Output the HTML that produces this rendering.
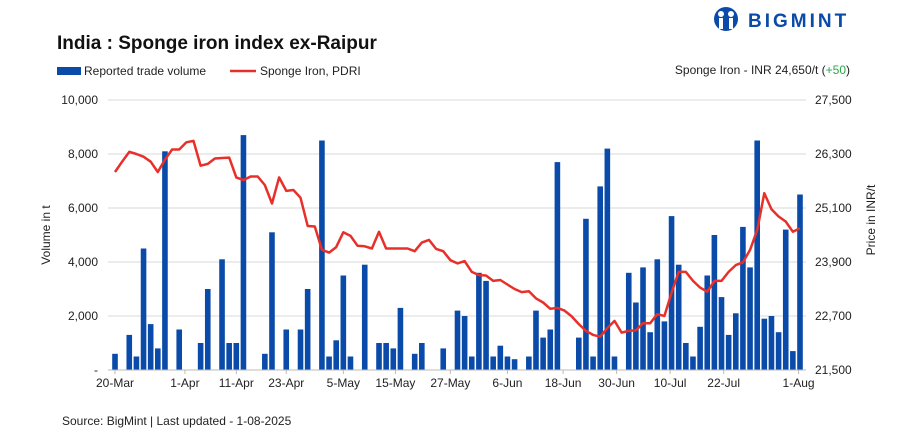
<!DOCTYPE html>
<html><head><meta charset="utf-8"><style>
body{margin:0;background:#fff;font-family:"Liberation Sans",sans-serif;}
svg{display:block}
</style></head><body>
<svg width="906" height="439" viewBox="0 0 906 439" xmlns="http://www.w3.org/2000/svg">
<text x="57" y="49" font-size="19" font-weight="bold" fill="#111">India : Sponge iron index ex-Raipur</text>
<g>
<circle cx="726" cy="19" r="12" fill="#0a4aa8"/>
<circle cx="721" cy="14" r="3" fill="#fff"/><circle cx="731" cy="14" r="3" fill="#fff"/>
<rect x="719" y="18" width="4" height="11" fill="#fff"/><rect x="729" y="18" width="4" height="11" fill="#fff"/>
<text x="748" y="27" font-size="19" font-weight="bold" fill="#0a4aa8" letter-spacing="3">BIGMINT</text>
</g>
<g>
<rect x="57" y="67" width="24" height="8" fill="#0a4aa8"/>
<text x="84" y="75" font-size="12" fill="#222">Reported trade volume</text>
<line x1="230" y1="71" x2="256" y2="71" stroke="#e8302a" stroke-width="2.5"/>
<text x="260" y="75" font-size="12" fill="#222">Sponge Iron, PDRI</text>
</g>
<text x="850" y="74" font-size="12" fill="#222" text-anchor="end">Sponge Iron - INR 24,650/t (<tspan fill="#2aa84a">+50</tspan>)</text>
<g id="grid"></g>
<g id="bars"></g>
<g id="line"></g>
<g id="axes"></g>
<text transform="translate(50,235) rotate(-90)" font-size="12" fill="#222" text-anchor="middle">Volume in t</text>
<text transform="translate(875,220) rotate(-90)" font-size="12" fill="#222" text-anchor="middle">Price in INR/t</text>
<text x="62" y="425" font-size="12" fill="#222">Source: BigMint | Last updated - 1-08-2025</text>
</svg>
<script>
const volumes=[600,0,1300,500,4500,1700,800,8100,0,1500,0,0,1000,3000,0,4100,1000,1000,8700,0,0,600,5100,0,1500,0,1500,3000,0,8500,500,1100,3500,500,0,3900,0,1000,1000,800,2300,0,600,1000,0,0,800,0,2200,2000,500,3600,3300,500,900,500,400,0,500,2200,1200,1500,7700,0,0,1200,5600,500,6800,8200,500,0,3600,2500,3800,1400,4100,1800,5700,3900,1000,500,1600,3500,5000,2700,1300,2100,5300,3800,8500,1900,2000,1400,5200,700,6500];
const prices=[25900,26130,26350,26300,26240,26130,25900,26170,26400,26400,26560,26590,26040,26080,26200,26210,26220,25780,25720,25800,25800,25610,25200,25780,25480,25500,25330,24700,24690,24170,24110,24230,24560,24480,24260,24250,24200,24570,24200,24200,24200,24200,24140,24330,24390,24190,24140,23940,23870,23920,23680,23610,23600,23480,23500,23400,23300,23230,23250,23090,23000,22860,22880,22820,22690,22520,22370,22280,22240,22430,22590,22330,22370,22380,22540,22540,22740,22700,23220,23680,23680,23480,23330,23240,23480,23480,23680,23830,23890,24170,24610,25430,25070,24910,24800,24570,24650];
const leftTicks=[0,2000,4000,6000,8000,10000];
const leftTickLabels=["-","2,000","4,000","6,000","8,000","10,000"];
const rightTicks=[21500,22700,23900,25100,26300,27500];
const rightTickLabels=["21,500","22,700","23,900","25,100","26,300","27,500"];
const xLabels=["20-Mar","1-Apr","11-Apr","23-Apr","5-May","15-May","27-May","6-Jun","18-Jun","30-Jun","10-Jul","22-Jul","1-Aug"];
const xLabelIdx=[0,9.8,17,24,32,39.3,47,55,62.8,70.3,77.8,85.3,95.8];
const NS="http://www.w3.org/2000/svg";
const X0=108,X1=806,Y0=370,Y1=100;
const step=(800-115)/(volumes.length-1);
const xs=i=>115+i*step;
const yL=v=>Y0-(v/10000)*(Y0-Y1);
const yR=v=>Y0-((v-21500)/6000)*(Y0-Y1);
function mk(tag,attrs,parent){const e=document.createElementNS(NS,tag);for(const k in attrs)e.setAttribute(k,attrs[k]);parent.appendChild(e);return e;}
const grid=document.getElementById('grid'),bars=document.getElementById('bars'),line=document.getElementById('line'),axes=document.getElementById('axes');
leftTicks.forEach((t,i)=>{
 if(t>0){const g=mk('line',{x1:X0,x2:X1,y1:yL(t),y2:yL(t),stroke:'#d9d9d9','stroke-width':1},grid);
 
 }
 const tx=mk('text',{x:98,y:yL(t)+4,'font-size':12,fill:'#222','text-anchor':'end'},axes);
 tx.textContent=leftTickLabels[i];
 
 
});
rightTicks.forEach((t,i)=>{
 const tx=mk('text',{x:815,y:yR(t)+4,'font-size':12,fill:'#222'},axes);
 tx.textContent=rightTickLabels[i];
 
 
});
const ax=mk('line',{x1:X0,x2:X1,y1:Y0,y2:Y0,stroke:'#bbb','stroke-width':1},axes);


volumes.forEach((v,i)=>{
 if(v<=0)return;
 const r=mk('rect',{x:xs(i)-2.8,y:yL(v),width:5.6,height:Y0-yL(v),fill:'#0a4aa8'},bars);
 
 
});
const pts=prices.map((p,i)=>xs(i).toFixed(1)+','+yR(p).toFixed(1)).join(' ');
const pl=mk('polyline',{points:pts,fill:'none',stroke:'#e8302a','stroke-width':2.5,'stroke-linejoin':'round'},line);


xLabels.forEach((l,i)=>{
 const x=xs(xLabelIdx[i]);
 const tk=mk('line',{x1:x,x2:x,y1:Y0,y2:Y0+4,stroke:'#bbb'},axes);
 
 
 const tx=mk('text',{x:x,y:387,'font-size':12,fill:'#222','text-anchor':'middle'},axes);
 tx.textContent=l;
 
 
});
</script>
</body></html>
